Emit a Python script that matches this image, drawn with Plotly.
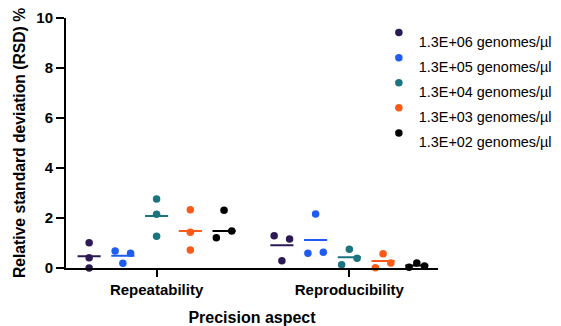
import plotly.graph_objects as go

categories = ["Repeatability", "Reproducibility"]
series_names = ["1.3E+06 genomes/µl", "1.3E+05 genomes/µl", "1.3E+04 genomes/µl",
                "1.3E+03 genomes/µl", "1.3E+02 genomes/µl"]
colors = ["#2c1a55", "#1f5cf0", "#1b7580", "#fb5a17", "#000000"]

# RSD values (%) per series: [Repeatability triple, Reproducibility triple]
vals_e6 = [[1.01, 0.41, 0.00], [1.29, 1.16, 0.29]]
vals_e5 = [[0.68, 0.59, 0.19], [2.16, 0.59, 0.63]]
vals_e4 = [[2.76, 2.15, 1.27], [0.75, 0.39, 0.13]]
vals_e3 = [[2.33, 1.43, 0.72], [0.57, 0.20, 0.01]]
vals_e2 = [[2.31, 1.48, 1.21], [0.20, 0.08, 0.03]]
all_vals = [vals_e6, vals_e5, vals_e4, vals_e3, vals_e2]

# centre lines (mean) per series: [Repeatability, Reproducibility]
means = [[0.47, 0.91], [0.49, 1.12], [2.08, 0.43], [1.48, 0.28], [1.48, 0.10]]

# scatter jitter direction for each point
jit = [
    [[0, 0, 0], [-1, 1, 0]],
    [[-1, 1, 0], [0, -1, 1]],
    [[0, 0, 0], [0, 1, -1]],
    [[0, 0, 0], [0, 1, -1]],
    [[0, 1, -1], [0, 1, -1]],
]

group_step = 0.175
jit_step = 0.04
half_line = 0.06

fig = go.Figure()
for s, name in enumerate(series_names):
    off = (s - 2) * group_step
    xs, ys = [], []
    for c in range(len(categories)):
        for k, v in enumerate(all_vals[s][c]):
            xs.append(c + off + jit[s][c][k] * jit_step)
            ys.append(v)
    legend_label = "\u00a0<br><span style='font-size:14.4px'>" + name + "</span>"
    fig.add_trace(go.Scatter(x=xs, y=ys, mode="markers", name=legend_label,
                             marker=dict(color=colors[s], size=7.5),
                             cliponaxis=False, legendgroup=name))
    for c in range(len(categories)):
        fig.add_trace(go.Scatter(x=[c + off - half_line, c + off + half_line],
                                 y=[means[s][c], means[s][c]], mode="lines",
                                 line=dict(color=colors[s], width=2),
                                 showlegend=False, cliponaxis=False, hoverinfo="skip"))

font_family = "Liberation Sans, Arial, sans-serif"
fig.update_layout(
    width=561, height=326,
    margin=dict(l=66, r=123, t=18, b=58, autoexpand=False),
    paper_bgcolor="white", plot_bgcolor="white",
    font=dict(family=font_family, color="black"),
    showlegend=True,
    legend=dict(x=0.841, xanchor="left", y=0.99, yanchor="top",
                font=dict(size=8.5, family=font_family, color="black"),
                valign="top", tracegroupgap=0, bgcolor="rgba(0,0,0,0)"),
    xaxis=dict(range=[-0.47, 1.46], tickvals=[0, 1], ticktext=categories,
               showline=True, linecolor="black", linewidth=2,
               ticks="outside", ticklen=7, tickwidth=2, tickcolor="black",
               showgrid=False, zeroline=False, automargin=False,
               tickfont=dict(size=15, family=font_family, weight="bold"),
               title=dict(text="<b>Precision aspect</b>", font=dict(size=16), standoff=17)),
    yaxis=dict(range=[0, 10], tickvals=[0, 2, 4, 6, 8, 10],
               showline=True, linecolor="black", linewidth=2,
               ticks="outside", ticklen=8, tickwidth=2, tickcolor="black",
               showgrid=False, zeroline=False, automargin=False,
               tickfont=dict(size=15, family=font_family, weight="bold"),
               title=dict(text="<b>Relative standard deviation (RSD) %</b>",
                          font=dict(size=15.7), standoff=7)),
)

fig.write_html("out.html")
